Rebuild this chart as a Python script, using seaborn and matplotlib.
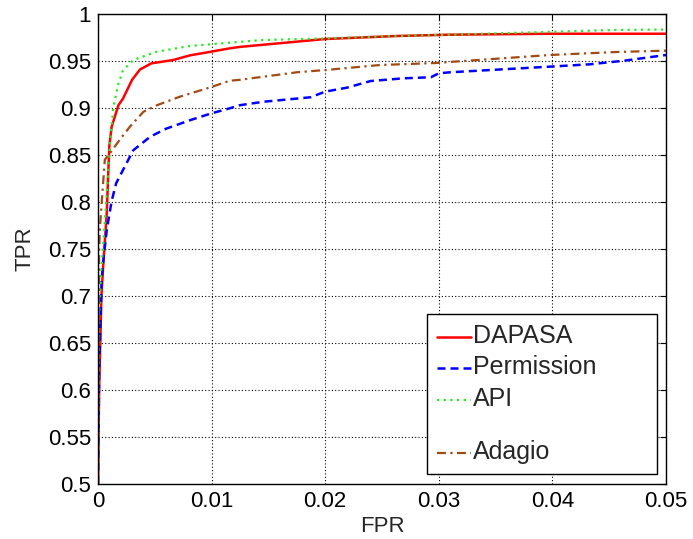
import matplotlib
matplotlib.use("Agg")
import matplotlib.pyplot as plt
import seaborn as sns
import pandas as pd
from matplotlib.lines import Line2D

# ROC curves (FPR, TPR) for each detector
dapasa_fpr = [0, 0.0001, 0.0003, 0.00047, 0.00077, 0.0009, 0.001, 0.0012, 0.0018, 0.0022,
              0.003, 0.0037, 0.0047, 0.0066, 0.0081, 0.010, 0.0116, 0.0125, 0.020, 0.0263,
              0.031, 0.040, 0.050]
dapasa_tpr = [0.5, 0.60, 0.70, 0.735, 0.788, 0.83, 0.86, 0.880, 0.903, 0.910,
              0.930, 0.941, 0.9475, 0.951, 0.956, 0.960, 0.9635, 0.965, 0.9734, 0.9766,
              0.978, 0.979, 0.979]

perm_fpr = [0, 0.0001, 0.00032, 0.00047, 0.00077, 0.0012, 0.0016, 0.0025, 0.0031, 0.0046,
            0.006, 0.0081, 0.0099, 0.0116, 0.0125, 0.0146, 0.0187, 0.020, 0.0219, 0.024,
            0.0269, 0.0293, 0.030, 0.031, 0.0398, 0.0433, 0.0463, 0.050]
perm_tpr = [0.5, 0.62, 0.717, 0.738, 0.770, 0.801, 0.82, 0.841, 0.855, 0.8695,
            0.878, 0.887, 0.894, 0.8997, 0.903, 0.9067, 0.9114, 0.9174, 0.9216, 0.9287,
            0.9316, 0.9327, 0.9369, 0.938, 0.944, 0.9465, 0.9503, 0.9564]

api_fpr = [0, 0.00005, 0.0001, 0.0003, 0.00047, 0.00077, 0.00106, 0.00135, 0.0018, 0.0022,
           0.0031, 0.0052, 0.0081, 0.0116, 0.0145, 0.020, 0.0263, 0.031, 0.0398, 0.0454, 0.050]
api_tpr = [0.5, 0.60, 0.68, 0.73, 0.756, 0.809, 0.8625, 0.901, 0.926, 0.940,
           0.951, 0.960, 0.966, 0.9695, 0.9723, 0.974, 0.9766, 0.978, 0.981, 0.983, 0.9835]

adagio_fpr = [0, 0.00005, 0.0001, 0.00018, 0.0003, 0.0006, 0.00106, 0.0019, 0.0028, 0.004,
              0.0052, 0.0072, 0.0099, 0.0116, 0.0125, 0.0175, 0.020, 0.0248, 0.030, 0.031,
              0.0398, 0.0457, 0.050]
adagio_tpr = [0.5, 0.65, 0.75, 0.774, 0.795, 0.845, 0.852, 0.866, 0.880, 0.896,
              0.903, 0.912, 0.922, 0.929, 0.930, 0.938, 0.9404, 0.9457, 0.948, 0.949,
              0.9564, 0.9596, 0.961]

x_ticks = [0, 0.01, 0.02, 0.03, 0.04, 0.05]
x_tick_labels = ["0", "0.01", "0.02", "0.03", "0.04", "0.05"]
y_ticks = [0.5, 0.55, 0.6, 0.65, 0.7, 0.75, 0.8, 0.85, 0.9, 0.95, 1.0]
y_tick_labels = ["0.5", "0.55", "0.6", "0.65", "0.7", "0.75", "0.8", "0.85", "0.9", "0.95", "1"]

sns.set_theme(style="white")
plt.rcParams["font.family"] = ["Liberation Sans", "DejaVu Sans"]

fig = plt.figure(figsize=(6.93, 5.39), dpi=100)
ax = fig.add_axes([98 / 693, 1 - 484 / 539, (666 - 98) / 693, (484 - 14) / 539])

series = [
    ("DAPASA", dapasa_fpr, dapasa_tpr, "#FF0000", "-", 1.8),
    ("Permission", perm_fpr, perm_tpr, "#0000FF", (0, (3.2, 2.0)), 1.8),
    ("API", api_fpr, api_tpr, "#22EE22", (0, (1.0, 2.0)), 1.6),
    ("Adagio", adagio_fpr, adagio_tpr, "#A24A14", (0, (4.0, 2.0, 1.0, 2.0)), 1.6),
]

handles = []
labels = []
for name, fx, ty, col, ls, lw in series:
    df = pd.DataFrame({"FPR": fx, "TPR": ty})
    sns.lineplot(data=df, x="FPR", y="TPR", ax=ax, color=col, linestyle=ls,
                 linewidth=lw, estimator=None, sort=False, legend=False)
    handles.append(Line2D([], [], color=col, linestyle=ls, linewidth=lw))
    labels.append(name)

# blank spacer row before the last entry
blank = Line2D([], [], color="none")
leg_handles = handles[:3] + [blank] + handles[3:]
leg_labels = labels[:3] + [" "] + labels[3:]

ax.set_xlim(0, 0.05)
ax.set_ylim(0.5, 1.0)
ax.set_xticks(x_ticks)
ax.set_xticklabels(x_tick_labels)
ax.set_yticks(y_ticks)
ax.set_yticklabels(y_tick_labels)

ax.grid(True, color="black", linestyle=(0, (1, 2)), linewidth=0.8)
for sp in ax.spines.values():
    sp.set_visible(True)
    sp.set_color("black")
    sp.set_linewidth(1.0)
ax.tick_params(direction="in", length=4, width=0.8, top=True, right=True,
               labelsize=16, colors="black", pad=5)

ax.set_xlabel("FPR", fontsize=16, labelpad=3)
ax.set_ylabel("TPR", fontsize=16, labelpad=9)

leg_x0 = (427 - 98) / 568
leg_w = (657 - 427) / 568
leg_y0 = (484 - 474) / 470
leg = ax.legend(leg_handles, leg_labels, loc="lower left",
                bbox_to_anchor=(leg_x0, leg_y0, leg_w, 0.3), mode="expand",
                fontsize=18, frameon=True, fancybox=False, framealpha=1,
                edgecolor="black", handlelength=1.35, handleheight=0.1,
                handletextpad=0.1, borderpad=0.4, labelspacing=0.3,
                borderaxespad=0.0)
leg.get_frame().set_linewidth(1.0)
leg.get_texts()[3].set_fontsize(4)

fig.savefig("out.png", dpi=100)
